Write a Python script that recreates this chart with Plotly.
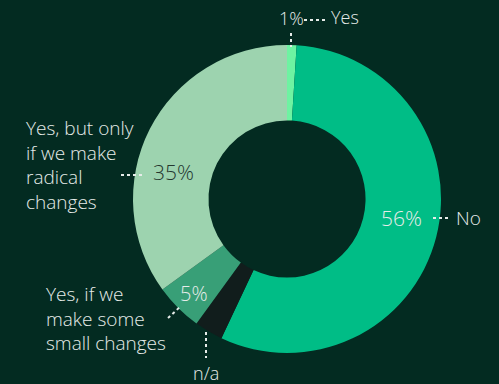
import plotly.graph_objects as go

# Survey answers and their shares (%)
answers = ["Yes", "No", "n/a", "Yes, if we make some small changes",
           "Yes, but only if we make radical changes"]
shares = [1, 56, 3, 5, 35]
colors = ["#6ef3a2", "#00bd86", "#111d1c", "#389f77", "#9dd3af"]

W, H = 499, 384
BG = "#032b21"
TXT = "#e6ece9"
FONT = "'Open Sans', Lato, sans-serif"

# Donut placement in pixels
cx, cy, R = 287, 199, 154


def px(x):
    return x / W


def py(y):
    return 1 - y / H


fig = go.Figure(go.Pie(
    labels=answers,
    values=shares,
    marker=dict(colors=colors, line=dict(width=0)),
    hole=0.51,
    sort=False,
    direction="clockwise",
    rotation=0,
    textinfo="none",
    hoverinfo="label+percent",
    domain=dict(x=[px(cx - R), px(cx + R)], y=[py(cy + R), py(cy - R)]),
    showlegend=False,
))

pct = {a: f"{v}%" for a, v in zip(answers, shares)}

# (text, x, y, xanchor, colour, size)
labels = [
    (pct["Yes"], 291, 18, "center", TXT, 18),
    ("Yes", 329, 17, "left", TXT, 18),
    (pct["No"], 401, 218, "center", TXT, 21),
    ("No", 454, 218, "left", TXT, 19),
    ("n/a", 206, 373, "center", TXT, 18),
    (pct["Yes, if we make some small changes"], 194, 293, "center", TXT, 20),
    ("Yes, if we<br>make some<br>small changes", 44, 318, "left", TXT, 19),
    (pct["Yes, but only if we make radical changes"], 173, 172, "center", "#24372f", 21),
    ("Yes, but only<br>if we make<br>radical<br>changes", 24, 165, "left", TXT, 19),
]

annotations = [
    dict(text=t, x=px(x), y=py(y), xref="paper", yref="paper",
         xanchor=xa, yanchor="middle", align="left", showarrow=False,
         font=dict(color=c, size=s, family=FONT, weight=300))
    for t, x, y, xa, c, s in labels
]

# Dotted leader lines (pixel endpoints)
leaders = [
    (304, 20, 326, 20),
    (291, 33, 291, 47),
    (433, 218, 450, 218),
    (206, 332, 206, 358),
    (168, 318, 181, 306),
    (121, 175, 144, 175),
]
shapes = [
    dict(type="line", xref="paper", yref="paper",
         x0=px(x0), y0=py(y0), x1=px(x1), y1=py(y1),
         line=dict(color=TXT, width=2, dash="dot"))
    for x0, y0, x1, y1 in leaders
]

fig.update_layout(
    width=W, height=H,
    margin=dict(l=0, r=0, t=0, b=0),
    paper_bgcolor=BG, plot_bgcolor=BG,
    annotations=annotations,
    shapes=shapes,
    font=dict(family=FONT, color=TXT),
)

fig.write_html("out.html")
